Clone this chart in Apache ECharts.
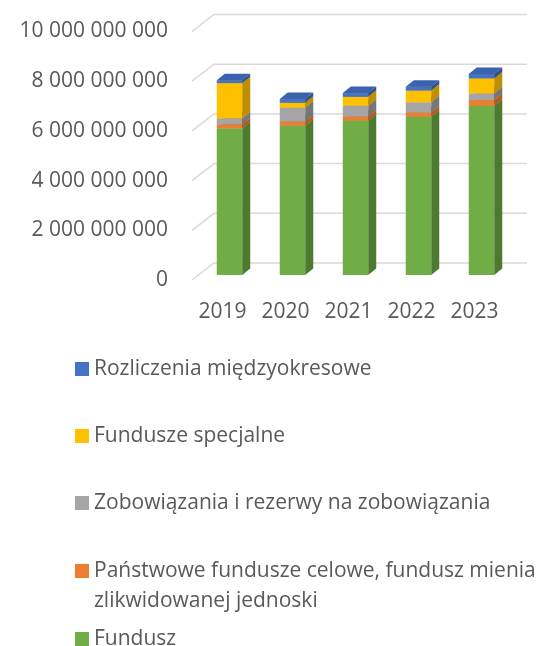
<!DOCTYPE html>
<html><head><meta charset="utf-8">
<script src="https://cdn.jsdelivr.net/npm/echarts@6/dist/echarts.min.js"></script>
<style>html,body{margin:0;padding:0;background:#fff}#c{width:538px;height:646px}</style>
</head><body><div id="c"></div>
<script>
const categories = ['2019', '2020', '2021', '2022', '2023'];
const fundusz = [5.90e9, 6.01e9, 6.21e9, 6.37e9, 6.81e9];
const panstwowe = [0.16e9, 0.16e9, 0.16e9, 0.16e9, 0.23e9];
const zobowiazania = [0.24e9, 0.56e9, 0.44e9, 0.42e9, 0.27e9];
const specjalne = [1.42e9, 0.20e9, 0.36e9, 0.47e9, 0.60e9];
const rozliczenia = [0.12e9, 0.15e9, 0.15e9, 0.16e9, 0.18e9];
const yTicks = [0, 2e9, 4e9, 6e9, 8e9, 10e9];
const seriesNames = ['Fundusz', 'Państwowe fundusze celowe, fundusz mienia zlikwidowanej jednoski', 'Zobowiązania i rezerwy na zobowiązania', 'Fundusze specjalne', 'Rozliczenia międzyokresowe'];
const seriesValues = [fundusz, panstwowe, zobowiazania, specjalne, rozliczenia];

const colors = [
  {front: '#70AD47', side: '#4E7A2F', top: '#5F9A3A'},
  {front: '#ED7D31', side: '#B35A1E', top: '#D06A25'},
  {front: '#A5A5A5', side: '#767676', top: '#8E8E8E'},
  {front: '#FFC000', side: '#BF8F00', top: '#E0A800'},
  {front: '#4472C4', side: '#2F528F', top: '#3A62AE'}
];

const FONT = '"Open Sans", "Noto Sans", sans-serif';
const TXT = '#595959';

function fmt(v) { return String(v).replace(/\B(?=(\d{3})+(?!\d))/g, ' '); }

const base = categories.map(() => 0);
const barSeries = seriesValues.map((vals, k) => {
  const data = categories.map((c, i) => {
    const d = [i, base[i], base[i] + vals[i]];
    base[i] += vals[i];
    return d;
  });
  const col = colors[k];
  return {
    type: 'custom', name: seriesNames[k], z: 10 + k,
    itemStyle: {color: col.front},
    encode: {x: 0, y: [1, 2]},
    data: data,
    renderItem: function (params, api) {
      const i = api.value(0), b = api.value(1), t = api.value(2);
      const pb = api.coord([i, b]), pt = api.coord([i, t]);
      const cx = pb[0] + 7, y0 = pb[1] - 5, y1 = pt[1] - 5;
      const hw = 12.75, dx = 8, dy = 6.5;
      return {
        type: 'group',
        children: [
          {type: 'rect', shape: {x: cx - hw, y: y1, width: hw * 2, height: y0 - y1}, style: {fill: col.front}},
          {type: 'polygon', shape: {points: [[cx + hw, y0], [cx + hw + dx, y0 - dy], [cx + hw + dx, y1 - dy], [cx + hw, y1]]}, style: {fill: col.side}},
          {type: 'polygon', shape: {points: [[cx - hw, y1], [cx + hw, y1], [cx + hw + dx, y1 - dy], [cx - hw + dx, y1 - dy]]}, style: {fill: col.top}}
        ]
      };
    }
  };
});

const gridSeries = {
  type: 'custom', name: 'grid', z: 1, silent: true,
  encode: {x: 0, y: 1},
  data: yTicks.map(v => [0, v]),
  renderItem: function (params, api) {
    const cs = params.coordSys;
    const y = api.coord([0, api.value(1)])[1];
    const x0 = cs.x + 1;
    return {
      type: 'polyline',
      shape: {points: [[x0, y], [x0 + 22, y - 17], [527, y - 17]]},
      style: {stroke: '#D9D9D9', lineWidth: 1.5, fill: null}
    };
  }
};

const legendTops = [626, 526, 490, 423, 356];
const legends = seriesNames.map((n, k) => {
  const multi = k === 1;
  return {
    data: [n], left: 75, top: legendTops[k], orient: 'vertical', padding: 0,
    icon: 'rect', itemWidth: 14, itemHeight: 14, selectedMode: false,
    formatter: multi ? function () { return '\u00a0\nPaństwowe fundusze celowe, fundusz mienia\nzlikwidowanej jednoski'; } : undefined,
    textStyle: {fontFamily: FONT, fontSize: 21, color: TXT, lineHeight: multi ? 30 : 26}
  };
});

const chart = echarts.init(document.getElementById('c'), null, {renderer: 'canvas'});
chart.setOption({
  animation: false,
  backgroundColor: '#fff',
  grid: {left: 191, width: 315, top: 31.5, bottom: 366, containLabel: false},
  xAxis: {
    type: 'category', data: categories,
    axisLine: {show: false}, axisTick: {show: false}, splitLine: {show: false},
    axisLabel: {fontFamily: FONT, fontSize: 21, color: TXT, margin: 22}
  },
  yAxis: {
    type: 'value', min: 0, max: 10e9, interval: 2e9,
    axisLine: {show: false}, axisTick: {show: false}, splitLine: {show: false},
    axisLabel: {fontFamily: FONT, fontSize: 21, color: TXT, margin: 23, formatter: fmt}
  },
  legend: legends,
  series: [gridSeries].concat(barSeries)
});
</script></body></html>
